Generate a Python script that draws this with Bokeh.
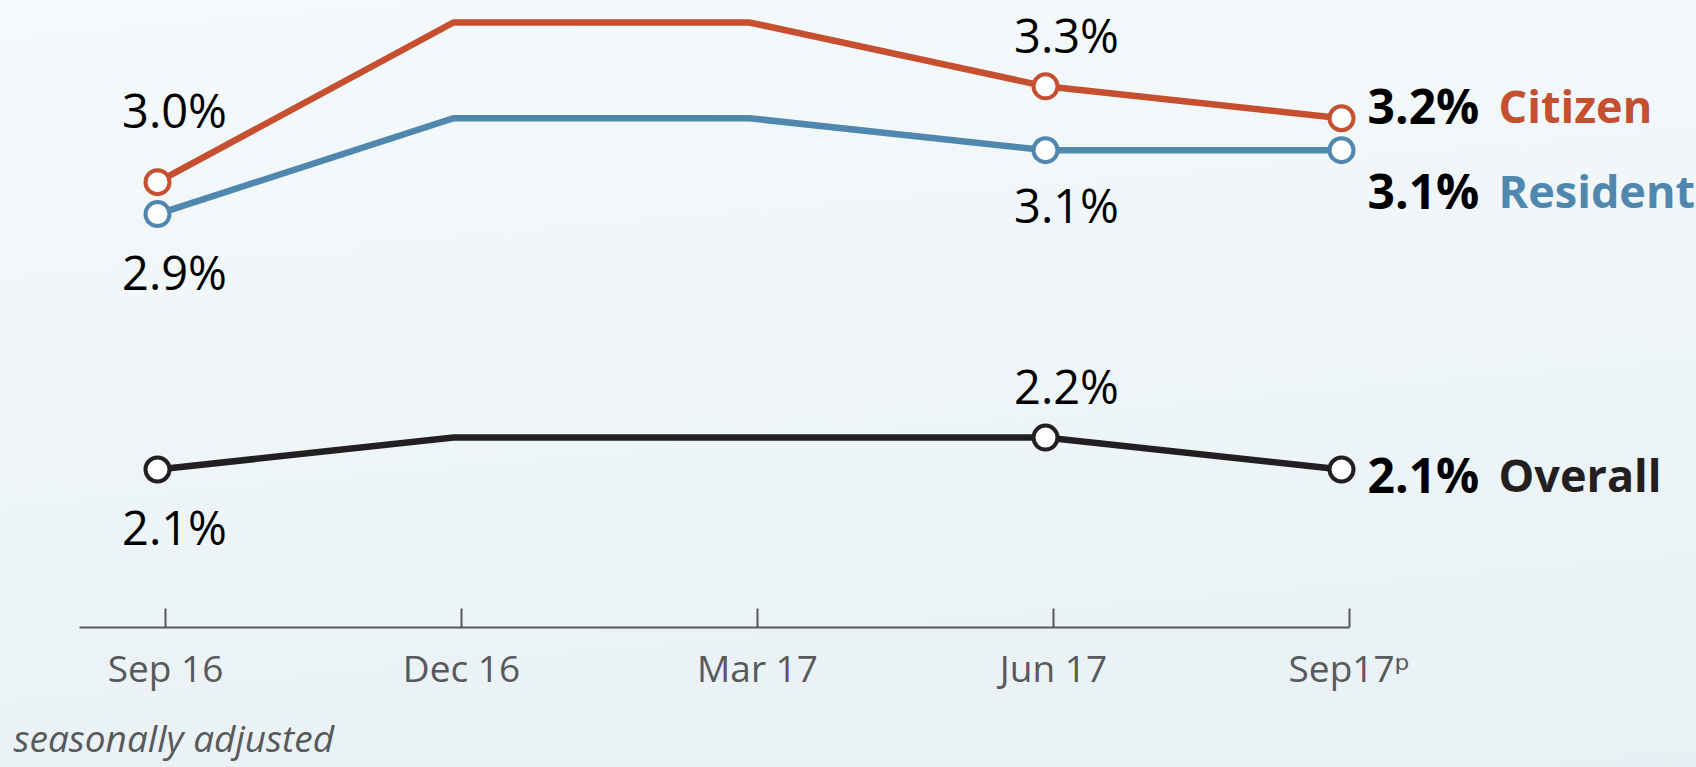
from bokeh.plotting import figure
from bokeh.models import (Range1d, FixedTicker, Title, GlobalInlineStyleSheet,
                          CustomJSTickFormatter)
from bokeh.core.properties import value
from bokeh.embed import file_html
from bokeh.resources import INLINE

# ---------------- data ----------------
periods = ["Sep 16", "Dec 16", "Mar 17", "Jun 17", "Sep17ᵖ"]
citizen = [3.0, 3.5, 3.5, 3.3, 3.2]
resident = [2.9, 3.2, 3.2, 3.1, 3.1]
overall = [2.1, 2.2, 2.2, 2.2, 2.1]
marked_points = [0, 3, 4]
series_names = ["Citizen", "Resident", "Overall"]
note_text = "seasonally adjusted"

# ---------------- style ----------------
colors = ["#c64f30", "#4f87ae", "#231f20"]
FONT = "Open Sans"
W, H = 1696, 767
PX0, STEP = 157, 296            # screen x of first period and spacing
AXIS_Y = 627                    # screen y of the x axis line
PX_PER_UNIT = 319.3
Y_REF_V, Y_REF_PX = 2.1, 469    # value 2.1 sits at screen y 469
Y_TOP = Y_REF_V + Y_REF_PX / PX_PER_UNIT
Y_BOT = Y_REF_V - (AXIS_Y - Y_REF_PX) / PX_PER_UNIT

series = [citizen, resident, overall]
xs = list(range(len(periods)))

p = figure(frame_width=W, frame_height=AXIS_Y, output_backend="svg", toolbar_location=None,
           x_range=Range1d(-PX0 / STEP, (W - PX0) / STEP),
           y_range=Range1d(Y_BOT, Y_TOP),
           y_axis_location=None,
           min_border_left=0, min_border_right=0, min_border_top=0,
           min_border_bottom=H - AXIS_Y,
           background_fill_alpha=0, border_fill_alpha=0,
           outline_line_color=None)
p.grid.visible = False
p.stylesheets = [GlobalInlineStyleSheet(css=(
    "html{min-height:100%;overflow:hidden;"
    "background:linear-gradient(175deg,#f5f9fb 0%,#eef5f8 55%,#e7f0f4 100%);}"
    "body{margin:0;background:transparent;overflow:hidden;}"))]

# x axis
TICK_SHIFT = 0.027
ax = p.xaxis[0]
ax.ticker = FixedTicker(ticks=[i + TICK_SHIFT for i in xs])
ax.formatter = CustomJSTickFormatter(args=dict(labels=periods),
                                     code="return labels[Math.round(tick)];")
ax.bounds = (-0.2635, len(periods) - 1 + TICK_SHIFT)
ax.axis_line_color = "#58595b"
ax.axis_line_width = 2
ax.major_tick_line_color = "#58595b"
ax.major_tick_line_width = 2
ax.major_tick_in = 19
ax.major_tick_out = 0
ax.minor_tick_line_color = None
ax.major_label_text_font = "Open Sans, DejaVu Sans"
ax.major_label_text_font_size = "37px"
ax.major_label_text_color = "#58595b"
ax.major_label_standoff = 14

# lines
for vals, c in zip(series, colors):
    p.line(xs, vals, line_width=6.5, line_color=c, line_join="miter")

# markers
for vals, c in zip(series, colors):
    p.scatter([xs[i] for i in marked_points], [vals[i] for i in marked_points],
              size=24, fill_color="white", line_color=c, line_width=4)

# point labels: (series index, point index, dx, dy)
point_labels = [(0, 0, 17, -72), (0, 3, 21, -51),
                (1, 0, 17, 58), (1, 3, 21, 55),
                (2, 0, 17, 57), (2, 3, 21, -52)]
for si, pi, dx, dy in point_labels:
    v = series[si][pi]
    p.text(x=[xs[pi]], y=[v], text=[f"{v:.1f}%"], x_offset=dx, y_offset=dy,
           text_align="center", text_baseline="middle",
           text_font=value(FONT), text_font_size="47px", text_color="#000000")

# end labels
end_dy = [-13, 40, 5]
last = len(periods) - 1
for vals, c, name, dy in zip(series, colors, series_names, end_dy):
    v = vals[last]
    p.text(x=[last], y=[v], text=[f"{v:.1f}%"], x_offset=26, y_offset=dy,
           text_align="left", text_baseline="middle", text_font=value(FONT),
           text_font_size="48px", text_font_style="bold", text_color="#000000")
    p.text(x=[last], y=[v], text=[name], x_offset=157, y_offset=dy,
           text_align="left", text_baseline="middle", text_font=value(FONT),
           text_font_size="45px", text_font_style="bold",
           text_color=("#231f20" if name == "Overall" else c))

# note below the axis
p.add_layout(Title(text=note_text, align="left", offset=13, standoff=29,
                   text_font=FONT, text_font_size="37px",
                   text_font_style="italic", text_color="#58595b"), "below")

open("out.html", "w").write(file_html(p, INLINE))
